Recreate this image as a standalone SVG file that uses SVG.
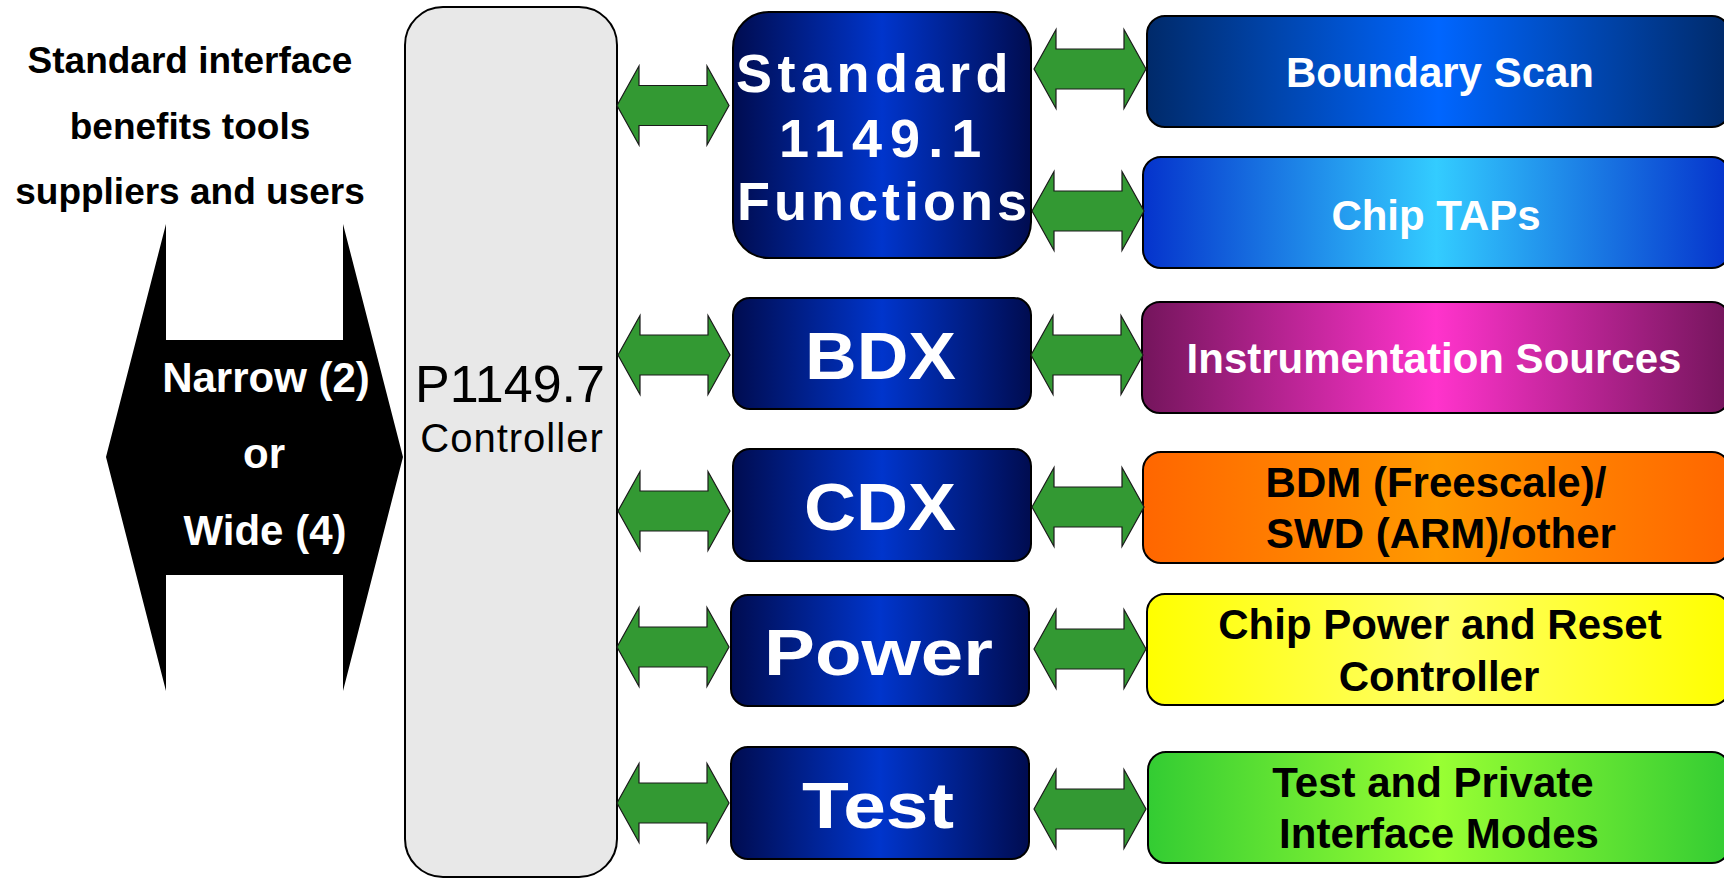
<svg xmlns="http://www.w3.org/2000/svg" xmlns:xlink="http://www.w3.org/1999/xlink" width="1724" height="880" viewBox="0 0 1724 880">
  <defs>
    <style>
      text { font-family: "Liberation Sans", Arial, sans-serif; }
      .wt { fill: #ffffff; }
      .bk { fill: #000000; }
      .mid { stroke: #000000; stroke-width: 2; }
      .side { stroke: #000000; stroke-width: 2; }
      .link { fill: #339933; stroke: #1a1a1a; stroke-width: 1.2; }
      .hdr { font-size: 37px; font-weight: bold; text-anchor: middle; }
      .lane { font-size: 42px; font-weight: bold; text-anchor: middle; fill: #ffffff; }
      .fn { font-size: 54px; font-weight: bold; fill: #ffffff; }
      .blk { font-weight: bold; fill: #ffffff; }
      .tgt { font-size: 42px; font-weight: bold; text-anchor: middle; }
    </style>
    <linearGradient id="gNavy" x1="0" y1="0" x2="1" y2="0">
      <stop offset="0" stop-color="#000c50"/>
      <stop offset="0.5" stop-color="#0035cc"/>
      <stop offset="1" stop-color="#000c50"/>
    </linearGradient>
    <linearGradient id="gScan" x1="0" y1="0" x2="1" y2="0">
      <stop offset="0" stop-color="#002a6a"/>
      <stop offset="0.5" stop-color="#0066ff"/>
      <stop offset="1" stop-color="#002a6a"/>
    </linearGradient>
    <linearGradient id="gTap" x1="0" y1="0" x2="1" y2="0">
      <stop offset="0" stop-color="#0533cc"/>
      <stop offset="0.5" stop-color="#33ccff"/>
      <stop offset="1" stop-color="#0533cc"/>
    </linearGradient>
    <linearGradient id="gInst" x1="0" y1="0" x2="1" y2="0">
      <stop offset="0" stop-color="#74155c"/>
      <stop offset="0.5" stop-color="#ff33cc"/>
      <stop offset="1" stop-color="#74155c"/>
    </linearGradient>
    <linearGradient id="gDbg" x1="0" y1="0" x2="1" y2="0">
      <stop offset="0" stop-color="#ff6600"/>
      <stop offset="0.5" stop-color="#ff9900"/>
      <stop offset="1" stop-color="#ff6600"/>
    </linearGradient>
    <linearGradient id="gPwr" x1="0" y1="0" x2="1" y2="0">
      <stop offset="0" stop-color="#ffff00"/>
      <stop offset="0.5" stop-color="#ffff66"/>
      <stop offset="1" stop-color="#ffff00"/>
    </linearGradient>
    <linearGradient id="gTst" x1="0" y1="0" x2="1" y2="0">
      <stop offset="0" stop-color="#33cc33"/>
      <stop offset="0.5" stop-color="#99ff33"/>
      <stop offset="1" stop-color="#33cc33"/>
    </linearGradient>
    <!-- two-headed block arrow, tips at x=0 and x=112, centred on y=0 -->
    <path id="dblArrow" d="M0,0 L22,-39.5 L22,-20 L90,-20 L90,-39.5 L112,0 L90,39.5 L90,20 L22,20 L22,39.5 Z"/>
  </defs>

  <rect width="1724" height="880" fill="#ffffff"/>

  <!-- caption -->
  <g id="caption">
    <text class="hdr" x="190" y="73">Standard interface</text>
    <text class="hdr" x="190" y="139">benefits tools</text>
    <text class="hdr" x="190" y="204">suppliers and users</text>
  </g>

  <!-- external interface width: narrow or wide -->
  <g id="interface-width">
    <polygon points="106,457 166,224 166,340 343,340 343,224 403,457 343,691 343,575 166,575 166,691" fill="#000000"/>
    <text class="lane" x="266" y="392">Narrow (2)</text>
    <text class="lane" x="264" y="468">or</text>
    <text class="lane" x="265" y="545">Wide (4)</text>
  </g>

  <!-- controller -->
  <g id="controller">
    <rect x="405" y="7" width="212" height="870" rx="38" ry="38" fill="#e8e8e8" stroke="#000000" stroke-width="2"/>
    <text x="510" y="402" font-size="52" text-anchor="middle" fill="#000000">P1149.7</text>
    <text x="512" y="452" font-size="40" letter-spacing="1" text-anchor="middle" fill="#000000">Controller</text>
  </g>

  <!-- function blocks -->
  <g id="std-functions">
    <rect class="mid" x="733" y="12" width="298" height="246" rx="36" ry="36" fill="url(#gNavy)"/>
    <text class="fn" x="736" y="92" letter-spacing="5.5">Standard</text>
    <text class="fn" x="779" y="157" letter-spacing="8">1149.1</text>
    <text class="fn" x="737" y="220" letter-spacing="4">Functions</text>
  </g>
  <g id="bdx">
    <rect class="mid" x="733" y="298" width="298" height="111" rx="17" ry="17" fill="url(#gNavy)"/>
    <text class="blk" x="805" y="379" font-size="66" textLength="151" lengthAdjust="spacingAndGlyphs">BDX</text>
  </g>
  <g id="cdx">
    <rect class="mid" x="733" y="449" width="298" height="112" rx="17" ry="17" fill="url(#gNavy)"/>
    <text class="blk" x="804" y="530" font-size="66" textLength="152" lengthAdjust="spacingAndGlyphs">CDX</text>
  </g>
  <g id="power">
    <rect class="mid" x="731" y="595" width="298" height="111" rx="17" ry="17" fill="url(#gNavy)"/>
    <text class="blk" x="764" y="675" font-size="64" textLength="229" lengthAdjust="spacingAndGlyphs">Power</text>
  </g>
  <g id="test">
    <rect class="mid" x="731" y="747" width="298" height="112" rx="17" ry="17" fill="url(#gNavy)"/>
    <text class="blk" x="802" y="828" font-size="64" textLength="152" lengthAdjust="spacingAndGlyphs">Test</text>
  </g>

  <!-- targets -->
  <g id="boundary-scan">
    <rect class="side" x="1147" y="16" width="583" height="111" rx="18" ry="18" fill="url(#gScan)"/>
    <text class="tgt wt" x="1440" y="87">Boundary Scan</text>
  </g>
  <g id="chip-taps">
    <rect class="side" x="1143" y="157" width="587" height="111" rx="18" ry="18" fill="url(#gTap)"/>
    <text class="tgt wt" x="1436" y="230">Chip TAPs</text>
  </g>
  <g id="instrumentation">
    <rect class="side" x="1142" y="302" width="588" height="111" rx="18" ry="18" fill="url(#gInst)"/>
    <text class="tgt wt" x="1434" y="373">Instrumentation Sources</text>
  </g>
  <g id="debug-ports">
    <rect class="side" x="1143" y="452" width="587" height="111" rx="18" ry="18" fill="url(#gDbg)"/>
    <text class="tgt bk" x="1436" y="497">BDM (Freescale)/</text>
    <text class="tgt bk" x="1441" y="548">SWD (ARM)/other</text>
  </g>
  <g id="power-reset">
    <rect class="side" x="1147" y="594" width="583" height="111" rx="18" ry="18" fill="url(#gPwr)"/>
    <text class="tgt bk" x="1440" y="639">Chip Power and Reset</text>
    <text class="tgt bk" x="1439" y="691">Controller</text>
  </g>
  <g id="test-modes">
    <rect class="side" x="1148" y="752" width="582" height="111" rx="18" ry="18" fill="url(#gTst)"/>
    <text class="tgt bk" x="1433" y="797">Test and Private</text>
    <text class="tgt bk" x="1439" y="848">Interface Modes</text>
  </g>

  <!-- connectors -->
  <g id="connectors">
    <use xlink:href="#dblArrow" class="link" x="617" y="105.5"/>
    <use xlink:href="#dblArrow" class="link" x="618" y="355"/>
    <use xlink:href="#dblArrow" class="link" x="618" y="511"/>
    <use xlink:href="#dblArrow" class="link" x="617" y="647"/>
    <use xlink:href="#dblArrow" class="link" x="617" y="803"/>

    <use xlink:href="#dblArrow" class="link" x="1034" y="69"/>
    <use xlink:href="#dblArrow" class="link" x="1032" y="211"/>
    <use xlink:href="#dblArrow" class="link" x="1031" y="355"/>
    <use xlink:href="#dblArrow" class="link" x="1032" y="507"/>
    <use xlink:href="#dblArrow" class="link" x="1034" y="649"/>
    <use xlink:href="#dblArrow" class="link" x="1034" y="809"/>
  </g>
</svg>
